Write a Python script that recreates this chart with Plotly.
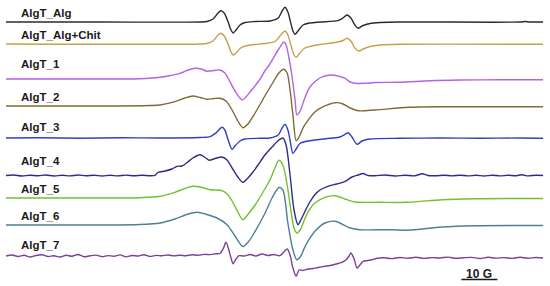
import plotly.graph_objects as go

# EPR spectra, field in G, intensity in arbitrary units (upward deflection)
names = ["AlgT_Alg", "AlgT_Alg+Chit", "AlgT_1", "AlgT_2", "AlgT_3",
         "AlgT_4", "AlgT_5", "AlgT_6", "AlgT_7"]

alg_field = [3290.0, 3316.1, 3343.9, 3345.8, 3347.5, 3348.9, 3349.7, 3350.6, 3351.7, 3352.5,
             3353.1, 3353.9, 3355.0, 3356.4, 3359.2, 3363.3, 3365.6, 3366.7, 3367.5, 3368.3,
             3368.9, 3369.7, 3370.3, 3371.1, 3372.5, 3374.4, 3377.2, 3382.2, 3383.6, 3384.7,
             3385.8, 3386.9, 3387.8, 3388.9, 3391.1, 3393.9, 3399.4, 3432.8, 3434.2, 3435.6,
             3439.2]
alg_int = [0, 0, 0, 0.5, 3, 9, 11.3, 9, 0, -8,
           -11, -8, -3, -0.5, 0.5, 1, 4, 11, 14.7, 10,
           2, -9, -12.3, -9, -3, -1, 0, 1.3, 4, 7,
           4, -3, -6.3, -4, -1.5, -0.5, 0, 0, 0.5, 0,
           0]

chit_field = [3290.0, 3343.9, 3345.8, 3347.5, 3348.9, 3349.7, 3350.6, 3351.7, 3352.5, 3353.1,
              3353.9, 3355.0, 3356.4, 3359.2, 3361.9, 3364.7, 3366.1, 3367.5, 3368.3, 3369.2,
              3370.0, 3370.6, 3371.4, 3372.8, 3374.4, 3377.2, 3380.0, 3382.8, 3383.9, 3384.7,
              3385.8, 3386.9, 3388.1, 3389.2, 3391.1, 3393.9, 3399.4, 3439.2]
chit_int = [0, 0, 0.5, 3, 9, 10.7, 8, 0, -8, -11,
            -9, -4.5, -2, -0.5, 0.5, 2.5, 8, 13, 9, -2,
            -11, -13.3, -10, -4.5, -2.5, -0.5, 0.7, 2.5, 4, 5.7,
            3, -4, -7, -5, -2.5, -1, -0.3, -0.3]

a1_field = [3290.0, 3316.1, 3327.2, 3332.8, 3335.6, 3338.3, 3340.6, 3342.5, 3344.2, 3345.8,
            3347.8, 3349.4, 3350.8, 3352.2, 3353.6, 3355.6, 3356.9, 3357.8, 3360.6, 3361.9,
            3363.3, 3365.6, 3367.2, 3367.8, 3368.6, 3369.4, 3370.3, 3370.8, 3371.7, 3373.1,
            3374.4, 3375.8, 3377.2, 3378.6, 3380.6, 3382.8, 3384.2, 3385.6, 3386.9, 3389.7,
            3392.5, 3399.4, 3407.8, 3416.1, 3427.2, 3439.2]
a1_int = [0, 0, 0.3, 1.7, 3.5, 5.7, 9, 10.7, 10, 7.8,
          8.5, 9, 6, -2.7, -12, -21, -17, -13, 0, 8,
          15, 29, 37, 34, 21, 4, -21, -36, -32, -18,
          -8, -2.7, 1, 3, 4, 2.5, 0.7, -3, -4.3, -4.3,
          -3.5, -3.3, -1.7, -1, -0.8, -0.7]

a2_field = [3290.0, 3316.1, 3330.0, 3332.8, 3336.9, 3339.7, 3341.9, 3343.9, 3345.8, 3347.8,
            3349.4, 3351.1, 3352.8, 3354.4, 3355.8, 3357.2, 3359.2, 3361.9, 3363.9, 3365.8,
            3367.2, 3368.1, 3368.9, 3369.7, 3370.6, 3371.4, 3372.5, 3373.6, 3375.8, 3378.1,
            3381.4, 3383.6, 3385.6, 3387.8, 3392.5, 3401.7, 3411.1, 3439.2]
a2_int = [0, 0, 0.5, 1, 4.3, 8, 10, 8.5, 6.7, 7.5,
          7.7, 5, -4, -15, -21.7, -18, -7, 10, 22, 33,
          36.7, 33, 16, -9, -34.7, -31, -22, -15.7, -6, -0.7,
          3.3, 2, -2, -4.7, -4, -1.3, -0.7, -0.7]

a3_field = [3290.0, 3299.4, 3310.6, 3321.7, 3332.8, 3343.9, 3346.7, 3348.3, 3350.0, 3350.8,
            3351.7, 3352.8, 3353.6, 3355.0, 3356.4, 3360.6, 3363.3, 3365.6, 3366.7, 3367.5,
            3368.3, 3368.9, 3369.7, 3370.6, 3371.7, 3374.4, 3380.0, 3382.8, 3383.9, 3385.0,
            3386.1, 3387.5, 3388.9, 3391.1, 3399.4, 3410.6, 3421.7, 3432.8, 3439.2]
a3_int = [0, 0.2, -0.2, 0.2, 0, 0.5, 1.3, 5, 10.7, 8,
          -2, -11.3, -8, -3, -1, -0.3, 0, 3, 10, 13.7,
          8, -2, -15.3, -11, -5.3, -2.7, -0.3, 1, 3, 5.3,
          1, -6.3, -3, -1, -0.3, 0, -0.3, 0, -0.3]

a4_field = [3290.0, 3292.2, 3294.4, 3296.7, 3298.9, 3301.1, 3303.3, 3305.6, 3307.8, 3310.0,
            3312.2, 3314.4, 3316.7, 3318.9, 3321.1, 3323.3, 3325.6, 3327.8, 3330.0,
            3331.4, 3332.2, 3334.2, 3336.1, 3337.5, 3338.9, 3340.3, 3341.9, 3343.9, 3345.3,
            3346.4, 3348.1, 3350.0, 3351.4, 3352.8, 3354.4, 3355.8, 3357.2, 3358.6, 3360.0,
            3361.9, 3363.9, 3365.8, 3366.9, 3367.8, 3368.9, 3370.0, 3371.1, 3371.9, 3373.1,
            3374.4, 3375.8, 3377.2, 3379.4, 3381.9, 3384.2, 3386.1, 3387.8, 3389.2, 3390.6,
            3392.5, 3395.3, 3398.1, 3400.8, 3403.6, 3405.6, 3407.2,
            3409.4, 3411.7, 3413.9, 3416.1, 3418.3, 3420.6, 3422.8, 3425.0, 3427.2, 3429.4,
            3431.7, 3433.3, 3435.0, 3437.2, 3439.2]
a4_int = [0, 0.5, -0.5, 0.3, -0.3, 0.5, -0.5, 0.2, -0.4, 0.5,
          -0.3, 0.3, -0.5, 0.2, -0.4, 0.4, -0.3, 0.3, -0.2,
          0.2, 3, 4.5, 6.5, 9.2, 9.5, 13, 17.5, 20.8, 18,
          15.2, 17, 18.5, 15.5, 7.5, -1.5, -6.8, -2.5, 3.5, 10.5,
          20.5, 28.5, 35.5, 37.5, 30.5, 0.5, -34.5, -49.2, -44.5, -35.5,
          -26.5, -19.2, -14.5, -10.8, -8.5, -5.8, -1.5, 0.5, 2, 0,
          -0.2, 0.5, -0.5, 0.2, -0.3, 1.8, 0,
          -0.3, 0.3, -0.4, 0.3, -0.4, 0.2, -0.5, 0.3, -0.4, 0.2,
          -0.3, 0.7, -0.4, 0.3, 0]

a5_field = [3290.0, 3316.1, 3327.2, 3332.8, 3336.9, 3339.7, 3341.9, 3343.9, 3346.7, 3350.0,
            3351.4, 3352.8, 3354.4, 3355.8, 3357.5, 3359.2, 3361.9, 3363.3, 3364.7, 3365.8,
            3366.9, 3368.1, 3369.2, 3370.0, 3370.8, 3371.7, 3373.1, 3374.4, 3375.8, 3378.6,
            3381.4, 3384.7, 3386.9, 3393.9, 3401.7, 3411.1, 3420.3, 3439.2]
a5_int = [0, 0, 0.3, 1.7, 5.7, 9.5, 11.7, 11, 8.3, 7.3,
          4, -3, -14, -21.7, -15, -7, 9, 18, 30, 37.7,
          33, 13, -14, -30, -35, -32, -20, -11, -5, 0.7,
          2.3, -1.7, -4, -4.3, -4.3, -1.7, -0.7, -0.5]

a6_field = [3290.0, 3316.1, 3327.2, 3332.8, 3336.9, 3340.6, 3343.1, 3345.8, 3348.6, 3351.4,
            3353.6, 3355.8, 3357.5, 3359.2, 3361.9, 3363.9, 3365.8, 3366.9, 3368.3, 3369.7,
            3370.8, 3371.9, 3373.1, 3375.8, 3378.6, 3381.4, 3385.6, 3388.3, 3397.2, 3401.7,
            3411.1, 3420.3, 3439.2]
a6_int = [0, 0, 0.5, 2, 6, 11, 12.7, 10.5, 7, 0.3,
          -11, -21.5, -16, -6.3, 11.5, 27, 37.5, 35, 2, -25,
          -34.7, -31, -21.3, -6.3, 2, 3.7, -3, -4.7, -4.7, -5.3,
          -2, -0.7, -0.5]

a7_field = [3290.0, 3291.7, 3293.3, 3295.0, 3296.7, 3298.3, 3300.0, 3301.7, 3303.3, 3305.0,
            3306.7, 3308.3, 3310.0, 3311.7, 3313.3, 3315.0, 3316.7, 3318.3, 3320.0, 3321.7,
            3323.3, 3325.0, 3326.7, 3328.3, 3330.0, 3331.7, 3333.3, 3335.0, 3336.7, 3338.3,
            3340.0, 3341.7, 3343.3, 3345.0, 3346.7, 3348.3,
            3349.4, 3350.3, 3351.1, 3351.9, 3352.5, 3353.1, 3353.9, 3354.7, 3356.1, 3357.8,
            3359.4, 3361.1, 3362.8, 3364.4, 3366.1, 3366.9, 3368.1, 3368.9, 3369.7, 3370.6,
            3371.4, 3372.5, 3373.9, 3375.3, 3376.7, 3378.6, 3380.0, 3381.7, 3383.3, 3384.4,
            3385.3, 3385.8, 3386.7, 3387.5, 3388.3, 3389.2, 3390.6, 3391.9,
            3392.8, 3395.0, 3397.2, 3399.4, 3401.7, 3403.9, 3406.1, 3408.3, 3410.6, 3412.8,
            3415.0, 3417.2, 3419.4, 3421.7, 3423.9, 3426.1, 3428.3, 3430.6, 3432.8, 3435.0,
            3437.2, 3439.2]
a7_int = [0, 1, -0.5, 0.8, -1, 0.5, 1.2, -0.6, 0.3, -1,
          0.7, -0.3, 1.5, -0.8, 0.2, 0.9, -0.7, 0.4, -0.2, 1.1,
          -0.9, 0.5, 0, 1.3, -0.4, 0.6, 0.2, 1, 0.1, 0.8,
          0.3, 1.2, 0.7, 1.6, 1.4, 2.2,
          2.5, 7, 13.7, 6, -2, -7.7, -3, 0.3, 0, 1.5,
          0, 2, 0.5, 1.5, 0.3, 3, 7, 1, -12, -20.3,
          -14, -14.5, -13, -12.5, -11.5, -10.3, -9.5, -8, -6.3, -4,
          0, 3, -3, -12, -9, -5.3, -4.5, -3.5,
          -2.5, -1.8, -2.6, -1.5, -2.2, -1.2, -2.4, -1.6, -2.0, -1.1,
          -2.3, -1.7, -1.4, -2.5, -1.3, -2.1, -1.6, -2.4, -1.2, -2.2,
          -1.5, -2.0]

fields = [alg_field, chit_field, a1_field, a2_field, a3_field,
          a4_field, a5_field, a6_field, a7_field]
intensities = [alg_int, chit_int, a1_int, a2_int, a3_int,
               a4_int, a5_int, a6_int, a7_int]

# stacking (vertical offset of each baseline) and styling
offsets = [22, 44, 79, 106, 138, 175.5, 198, 225, 256]
label_y = [13, 35, 64, 97, 127, 161, 189, 216, 245]
colors = ["#2b2b2b", "#c8a04a", "#b263e6", "#7d6a36", "#3040c4",
          "#2e2c88", "#72c22e", "#4e7f96", "#7e3f99"]

fig = go.Figure()
for name, col, f, s, off in zip(names, colors, fields, intensities, offsets):
    fig.add_trace(go.Scatter(
        x=f, y=[v - off for v in s], mode="lines", name=name,
        line=dict(color=col, width=1.4, shape="spline", smoothing=0.8),
        showlegend=False, hoverinfo="skip"))

font = dict(family="Liberation Sans, Arial, sans-serif", size=11.5, color="#1a1a1a")
for name, ly in zip(names, label_y):
    fig.add_annotation(text="<b>%s</b>" % name, x=19 / 550, xref="paper",
                       y=-ly, yref="y", xanchor="left", yanchor="middle",
                       showarrow=False, font=font)

# 10 G scale bar
fig.add_shape(type="line", x0=3416.5, x1=3426.5, y0=-279.5, y1=-279.5,
              xref="x", yref="y", line=dict(color="#1a1a1a", width=1.5))
fig.add_annotation(text="<b>10 G</b>", x=3421.5, y=-274, xref="x", yref="y",
                   xanchor="center", yanchor="middle", showarrow=False,
                   font=dict(font, size=12))

fig.update_layout(
    width=550, height=286,
    margin=dict(l=0, r=0, t=0, b=0),
    paper_bgcolor="white", plot_bgcolor="white",
    xaxis=dict(visible=False, range=[3288.33, 3441.11]),
    yaxis=dict(visible=False, range=[-286, 0]),
)

# drop the page's default body margin so the figure sits at the window corner
fig.write_html("out.html", config={"displayModeBar": False},
               post_script="document.body.style.margin='0';")
